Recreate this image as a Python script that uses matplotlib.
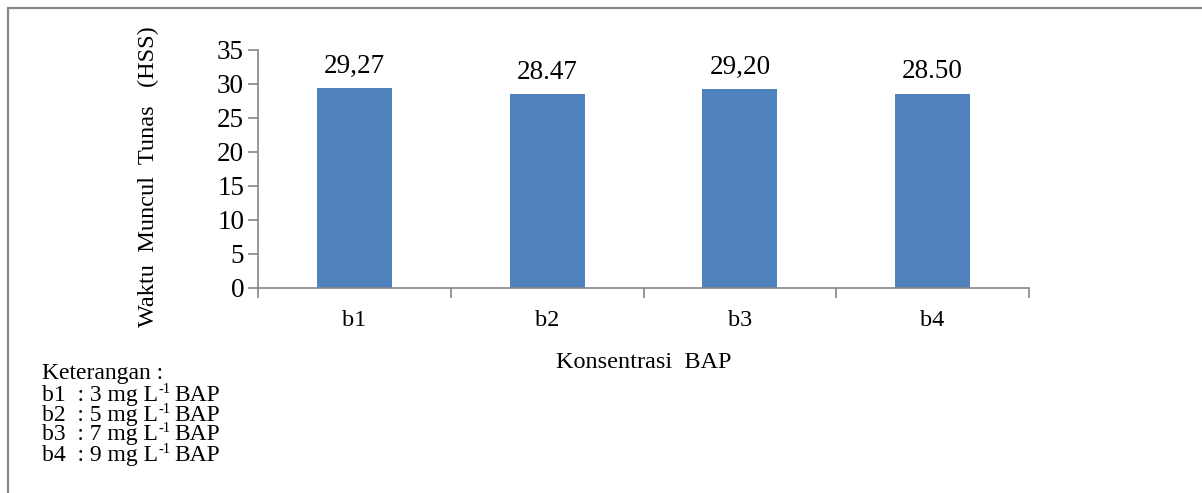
import matplotlib
matplotlib.use('Agg')
import matplotlib.pyplot as plt
from matplotlib.patches import Rectangle
import numpy as np

plt.rcParams['font.family'] = ['Liberation Serif', 'DejaVu Serif']

categories = ['b1', 'b2', 'b3', 'b4']
values = [29.27, 28.47, 29.20, 28.50]
value_labels = ['29,27', '28.47', '29,20', '28.50']
doses = [3, 5, 7, 9]

W, H = 1202, 493
fig = plt.figure(figsize=(W / 100, H / 100), dpi=100)


def px(x, y):
    # pixel position from the top-left corner -> figure fraction
    return x / W, 1 - y / H


# outer chart frame
fig.patches.append(Rectangle((8 / W, -0.1), 1.2, (H - 8) / H + 0.1,
                             transform=fig.transFigure, fill=False,
                             edgecolor='#898989', linewidth=1.6))

ax = fig.add_axes([258 / W, (H - 287.5) / H, (1029 - 258) / W, 238 / H])
x = np.arange(len(categories))
bars = ax.bar(x, values, width=0.39, color='#4F81BD')
for bar, lab in zip(bars, value_labels):
    ax.annotate(lab, (bar.get_x() + bar.get_width() / 2, bar.get_height()),
                xytext=(0, 11), textcoords='offset points',
                ha='center', va='baseline', fontsize=19.5)

grey = '#868686'
ax.set_xlim(-0.5, len(categories) - 0.5)
ax.set_ylim(0, 35)
ax.set_yticks(range(0, 36, 5))
ax.set_xticks(x)
ax.set_xticklabels(categories)
ax.set_xticks(np.arange(-0.5, len(categories)), minor=True)
ax.tick_params(axis='x', which='major', length=0, pad=16, labelsize=17.5)
ax.tick_params(axis='x', which='minor', length=7, color=grey, width=1.2)
ax.tick_params(axis='y', length=7, color=grey, width=1.2, labelsize=19.5, pad=3)
for side in ['top', 'right']:
    ax.spines[side].set_visible(False)
for side in ['left', 'bottom']:
    ax.spines[side].set_color(grey)
    ax.spines[side].set_linewidth(1.2)

fig.text(*px(643.5, 368), 'Konsentrasi  BAP', ha='center', va='baseline',
         fontsize=17.5)
fig.text(*px(148, 177), 'Waktu  Muncul  Tunas   (HSS)', rotation=90,
         ha='center', va='center', fontsize=17.5)

# notes below the chart, with a raised "-1" after the litre unit
legend_x = 41.7
legend_fs = 17
fig.text(*px(legend_x, 379), 'Keterangan :', ha='left', va='baseline',
         fontsize=legend_fs)
renderer = fig.canvas.get_renderer()
for code, dose, base in zip(categories, doses, [401, 421, 440, 461]):
    head = fig.text(*px(legend_x, base), f'{code}  : {dose} mg L',
                    ha='left', va='baseline', fontsize=legend_fs)
    x1 = head.get_window_extent(renderer).x1
    sup = fig.text((x1 + 1) / W, 1 - (base - 8) / H, '-1',
                   ha='left', va='baseline', fontsize=10.5)
    x2 = sup.get_window_extent(renderer).x1
    fig.text((x2 + 4) / W, 1 - base / H, 'BAP', ha='left', va='baseline',
             fontsize=legend_fs)

fig.savefig('out.png', dpi=100)
